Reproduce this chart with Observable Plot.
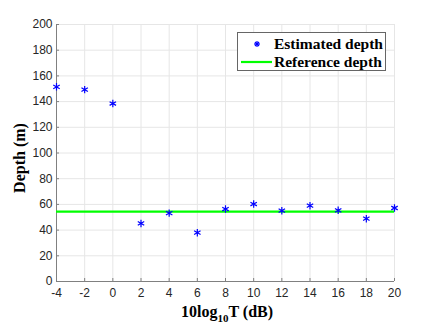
<!DOCTYPE html>
<html><head><meta charset="utf-8">
<script src="https://cdn.jsdelivr.net/npm/d3@7"></script>
<script src="https://cdn.jsdelivr.net/npm/@observablehq/plot@0.6"></script>
<style>
body{margin:0;background:#fff;}
#wrap{position:relative;width:436px;height:327px;}
.lbl{position:absolute;font-family:"Liberation Serif","Times New Roman",serif;font-weight:bold;font-size:16px;color:#000;white-space:nowrap;line-height:16px;}
#legend{position:absolute;left:237px;top:32px;width:149px;height:39px;border:1px solid #666;background:#fff;box-sizing:border-box;font-family:"Liberation Serif",serif;font-weight:bold;font-size:15.5px;line-height:16px;}
#legend .row{position:absolute;left:36px;}
</style></head><body>
<div id="wrap"></div>
<script>
const snr = [-4,-2,0,2,4,6,8,10,12,14,16,18,20];
const estimated = [151.5,149.3,138.5,45.2,53.2,38,56.4,60.3,55.1,59,55.4,48.9,57.2];
const referenceDepth = 54.3;
const xTicks = [-4,-2,0,2,4,6,8,10,12,14,16,18,20];
const yTicks = [0,20,40,60,80,100,120,140,160,180,200];

const data = snr.map((x,i)=>({x, y: estimated[i]}));
const tickFont = "Liberation Sans, Arial, sans-serif";
const fmt = d => String(d);
const chart = Plot.plot({
  width: 436, height: 327,
  marginLeft: 56, marginRight: 42, marginTop: 24, marginBottom: 46,
  style: {fontFamily: tickFont, fontSize: "12px", color: "#262626", background: "#fff"},
  x: {domain: [-4, 20], ticks: xTicks, label: null},
  y: {domain: [0, 200], ticks: yTicks, label: null},
  marks: [
    Plot.gridX(xTicks, {stroke: "#e6e6e6", strokeOpacity: 1}),
    Plot.gridY(yTicks, {stroke: "#e6e6e6", strokeOpacity: 1}),
    Plot.axisX({ticks: xTicks, tickFormat: fmt, tickSize: -3, tickPadding: 10, stroke: "#808080", fontSize: 12, fill: "#262626"}),
    Plot.axisY({ticks: yTicks, tickFormat: fmt, tickSize: -3, tickPadding: 7, stroke: "#808080", fontSize: 12, fill: "#262626"}),
    Plot.ruleX([-4], {stroke: "#808080"}),
    Plot.ruleY([0], {stroke: "#808080"}),
    Plot.ruleY([referenceDepth], {stroke: "#00ff00", strokeWidth: 2.2}),
    Plot.dot(data, {x: "x", y: "y", symbol: "asterisk", r: 3.5, stroke: "#0000ff", strokeWidth: 1.2})
  ]
});
const wrap = document.getElementById("wrap");
wrap.appendChild(chart);

const xl = document.createElement("div");
xl.className = "lbl";
xl.innerHTML = '10log<sub style="font-size:11px;vertical-align:-5px;line-height:0;">10</sub>T (dB)';
xl.style.left = "181px"; xl.style.top = "304px";
wrap.appendChild(xl);

const yl = document.createElement("div");
yl.className = "lbl";
yl.textContent = "Depth (m)";
yl.style.left = "-30px"; yl.style.top = "150px";
yl.style.transform = "rotate(-90deg)";
yl.style.width = "100px"; yl.style.textAlign = "center";
wrap.appendChild(yl);

const lg = document.createElement("div");
lg.id = "legend";
lg.innerHTML = `
<svg width="36" height="39" style="position:absolute;left:0;top:0">
<g stroke="#0000ff" stroke-width="1.2">
<line x1="19" y1="8" x2="19" y2="14"/><line x1="16" y1="11" x2="22" y2="11"/>
<line x1="17" y1="9" x2="21" y2="13"/><line x1="21" y1="9" x2="17" y2="13"/></g>
<line x1="3" y1="29" x2="34" y2="29" stroke="#00ff00" stroke-width="2.2"/></svg>
<div class="row" style="top:3px">Estimated depth</div>
<div class="row" style="top:21px">Reference depth</div>`;
wrap.appendChild(lg);
</script>
</body></html>
